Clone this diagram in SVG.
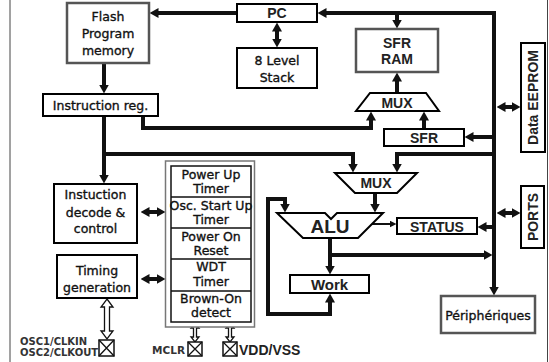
<svg xmlns="http://www.w3.org/2000/svg" width="549" height="362" viewBox="0 0 549 362">
<style>
.bx{fill:#fff;stroke:#000;stroke-width:2}
.gb{fill:#fff;stroke:#555;stroke-width:2.5}
.c{font-family:'DejaVu Sans',sans-serif;font-size:12.5px;fill:#111;stroke:#111;stroke-width:0.35;text-anchor:middle}
.a{font-family:'Liberation Sans',Arial,sans-serif;font-weight:bold;font-size:14px;fill:#222;text-anchor:middle}
.w{fill:none;stroke:#111;stroke-width:4}
.t{fill:none;stroke:#111;stroke-width:2}
.h{fill:#fff;stroke:#111;stroke-width:1.3}
.s{font-family:'DejaVu Sans',sans-serif;font-weight:bold;font-size:10px;fill:#333}
</style>
<defs>
<marker id="m" markerUnits="userSpaceOnUse" viewBox="0 0 9 10" markerWidth="9" markerHeight="10" refX="0.5" refY="5" orient="auto-start-reverse"><path d="M0,0 L9,5 L0,10 z" fill="#111"/></marker>
<marker id="ms" markerUnits="userSpaceOnUse" viewBox="0 0 7 7" markerWidth="7" markerHeight="7" refX="0.5" refY="3.5" orient="auto-start-reverse"><path d="M0,0 L7,3.5 L0,7 z" fill="#111"/></marker>
</defs>
<rect width="549" height="362" fill="#fff"/>
<line x1="10" y1="0" x2="10" y2="362" stroke="#444" stroke-width="1"/>
<line x1="547.5" y1="0" x2="547.5" y2="362" stroke="#444" stroke-width="1"/>

<g id="connectors">
<path class="w" d="M237,13 H158" marker-end="url(#m)"/>
<path class="w" d="M494,287 V13 H326" marker-start="url(#m)" marker-end="url(#m)"/>
<path class="w" d="M397,13 V20" marker-end="url(#m)"/>
<path class="w" d="M277,31 V39" marker-start="url(#m)" marker-end="url(#m)"/>
<path class="w" d="M104,63 V85" marker-end="url(#m)"/>
<path class="w" d="M104,116 V175" marker-end="url(#m)"/>
<path class="w" d="M104,154 H353 V164" marker-end="url(#m)"/>
<path class="w" d="M143,116 V128 H371 V120" marker-end="url(#m)"/>
<path class="w" d="M424,129 V120" marker-end="url(#m)"/>
<path class="w" d="M397,93 V81" marker-end="url(#m)"/>
<path class="w" d="M494,137 H473" marker-end="url(#m)"/>
<path class="w" d="M505,107 H512" marker-start="url(#m)" marker-end="url(#m)"/>
<path class="w" d="M494,154 H397 V164" marker-end="url(#m)"/>
<path class="w" d="M375,193 V204" marker-end="url(#m)"/>
<path class="t" d="M372,224 H390" marker-end="url(#ms)"/>
<path class="w" d="M494,227 H486" marker-end="url(#m)"/>
<path class="w" d="M505,213 H512" marker-start="url(#m)" marker-end="url(#m)"/>
<path class="w" d="M330,238 V266" marker-end="url(#m)"/>
<path class="w" d="M330,255 H484" marker-end="url(#m)"/>
<path class="w" d="M285,204 V199 H268 V314 H330 V302" marker-start="url(#m)" marker-end="url(#m)"/>
<path class="w" d="M149,212 H157" marker-start="url(#m)" marker-end="url(#m)"/>
<path class="w" d="M149,279 H157" marker-start="url(#m)" marker-end="url(#m)"/>
<polygon class="h" points="107,299 113,307 109.5,307 109.5,331 113,331 107,339 101,331 104.5,331 104.5,307 101,307"/>
<polygon class="h" points="195,323 199,328 196.5,328 196.5,337 199,337 195,342 191,337 193.5,337 193.5,328 191,328"/>
<polygon class="h" points="230,323 234,328 231.5,328 231.5,337 234,337 230,342 226,337 228.5,337 228.5,328 226,328"/>
</g>

<g id="flash"><rect class="gb" x="67" y="3" width="82" height="60"/>
<text class="c" x="108" y="21">Flash</text><text class="c" x="108" y="38">Program</text><text class="c" x="108" y="55">memory</text></g>
<g id="pc"><rect class="bx" x="237" y="4" width="80" height="18"/><text class="a" x="277" y="18">PC</text></g>
<g id="stack"><rect class="bx" x="237" y="48" width="80" height="40"/>
<text class="c" x="277" y="65">8 Level</text><text class="c" x="277" y="82">Stack</text></g>
<g id="sfrram"><rect class="gb" x="356" y="29" width="82" height="43"/>
<text class="a" x="397" y="48">SFR</text><text class="a" x="397" y="64">RAM</text></g>
<g id="mux1"><polygon class="bx" points="370,93 426,93 439,111 356,111"/><text class="a" x="397" y="108">MUX</text></g>
<g id="instreg"><rect class="bx" x="43" y="94" width="115" height="22"/><text class="c" x="100.5" y="110">Instruction reg.</text></g>
<g id="sfr"><rect class="bx" x="384" y="129" width="80" height="17"/><text class="a" x="424" y="143">SFR</text></g>
<g id="eeprom"><rect class="bx" x="521" y="43" width="24" height="109"/><text class="a" transform="translate(538,97.5) rotate(-90)">Data EEPROM</text></g>
<g id="mux2"><polygon class="bx" points="335,173 417,173 397,193 355,193"/><text class="a" x="376" y="188">MUX</text></g>
<g id="alu"><polygon class="bx" points="277,213 325,213 331,219 337,213 383,213 358,238 303,238"/>
<text class="a" x="330" y="233" style="font-size:19px">ALU</text></g>
<g id="status"><rect class="bx" x="397" y="218" width="80" height="16"/><text class="a" x="437" y="232">STATUS</text></g>
<g id="ports"><rect class="bx" x="521" y="186" width="23" height="62"/><text class="a" transform="translate(538,217) rotate(-90)">PORTS</text></g>
<g id="work"><rect class="bx" x="290" y="275" width="79" height="18"/><text class="a" x="329.5" y="290" style="font-size:15px">Work</text></g>
<g id="peripheriques"><rect class="gb" x="441" y="296" width="94" height="37"/><text class="c" x="488" y="320">Périphériques</text></g>
<g id="decode"><rect class="bx" x="54" y="184" width="83" height="59"/>
<text class="c" x="95.5" y="199">Instuction</text><text class="c" x="95.5" y="217">decode &amp;</text><text class="c" x="95.5" y="233">control</text></g>
<g id="timing"><rect class="bx" x="57" y="255" width="80" height="43"/>
<text class="c" x="97" y="275">Timing</text><text class="c" x="97" y="292">generation</text></g>
<g id="reset">
<rect x="165.5" y="161" width="89" height="166" fill="#fff" stroke="#777" stroke-width="1.5"/>
<rect x="171" y="166" width="80" height="156" fill="#fff" stroke="#111" stroke-width="1.5"/>
<path d="M171,197 H251 M171,228 H251 M171,259 H251 M171,291 H251" stroke="#111" stroke-width="1.5"/>
<text class="c" x="211" y="179">Power Up</text><text class="c" x="211" y="193">Timer</text>
<text class="c" x="211" y="210">Osc. Start Up</text><text class="c" x="211" y="224">Timer</text>
<text class="c" x="211" y="241">Power On</text><text class="c" x="211" y="255">Reset</text>
<text class="c" x="211" y="271">WDT</text><text class="c" x="211" y="286">Timer</text>
<text class="c" x="211" y="303">Brown-On</text><text class="c" x="211" y="317">detect</text>
</g>
<g id="osc"><rect x="99" y="340" width="15" height="16" fill="#fff" stroke="#111" stroke-width="1.5"/><path d="M99,340 L114,356 M114,340 L99,356" stroke="#111" stroke-width="1.3"/>
<text class="s" x="20" y="345">OSC1/CLKIN</text><text class="s" x="20" y="356">OSC2/CLKOUT</text></g>
<g id="mclr"><rect x="188" y="342" width="14" height="14" fill="#fff" stroke="#111" stroke-width="1.5"/><path d="M188,342 L202,356 M202,342 L188,356" stroke="#111" stroke-width="1.3"/>
<text class="s" x="185" y="354" style="text-anchor:end;font-size:10.5px">MCLR</text></g>
<g id="vdd"><rect x="223" y="342" width="14" height="14" fill="#fff" stroke="#111" stroke-width="1.5"/><path d="M223,342 L237,356 M237,342 L223,356" stroke="#111" stroke-width="1.3"/>
<text class="a" x="239" y="355" style="text-anchor:start">VDD/VSS</text></g>
</svg>
